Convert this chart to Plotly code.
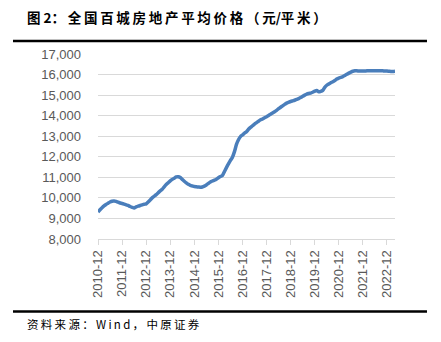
import plotly.graph_objects as go

# Monthly average price of 100 cities (yuan / m2), 2010-12 .. 2023-04
months = []
y, m = 2010, 12
for _ in range(149):
    months.append(f"{y}-{m:02d}")
    m += 1
    if m > 12:
        m = 1
        y += 1

prices = [
    9310, 9420, 9520, 9610, 9680, 9740, 9800, 9840, 9850, 9830, 9790, 9750,
    9730, 9700, 9660, 9630, 9580, 9540, 9510, 9560, 9600, 9630, 9660, 9690,
    9710, 9800, 9900, 10000, 10080, 10160, 10250, 10340, 10420, 10540, 10650, 10740,
    10830, 10900, 10960, 11020, 11030, 10990, 10900, 10810, 10730, 10660, 10610, 10580,
    10550, 10540, 10530, 10520, 10530, 10570, 10630, 10700, 10770, 10820, 10860, 10910,
    10980, 11040, 11090, 11280, 11470, 11650, 11820, 11980, 12250, 12600, 12830, 12980,
    13060, 13150, 13220, 13340, 13430, 13510, 13590, 13660, 13730, 13800, 13840, 13900,
    13950, 14010, 14070, 14130, 14190, 14260, 14340, 14410, 14480, 14550, 14610, 14650,
    14690, 14720, 14750, 14790, 14830, 14880, 14940, 15000, 15050, 15080, 15100, 15140,
    15190, 15220, 15160, 15180, 15230, 15380, 15480, 15540, 15600, 15650, 15710, 15780,
    15830, 15860, 15900, 15950, 16010, 16070, 16120, 16160, 16180, 16180, 16170, 16170,
    16170, 16170, 16180, 16180, 16180, 16190, 16190, 16190, 16190, 16190, 16180, 16170,
    16170, 16160, 16150, 16150, 16160,
]

tick_labels = [f"{yr}-12" for yr in range(2010, 2023)]
y_ticks = list(range(8000, 17001, 1000))

title_text = "图 2：全国百城房地产平均价格（元/平米）"
source_text = "资料来源：Wind，中原证券"

THIN = chr(0x2009)


def spaced(text, wide_only=False):
    """Open up character spacing with thin spaces (optionally only
    between two full-width characters)."""
    out = text[0]
    for a, b in zip(text, text[1:]):
        if not wide_only or (ord(a) > 0x2E80 and ord(b) > 0x2E80):
            out += THIN
        out += b
    return out


CJK = "Noto Sans CJK SC"
TICK_FONT = dict(family="Liberation Sans, Arial", size=13, color="#595959")

fig = go.Figure(
    go.Scatter(
        x=months,
        y=prices,
        mode="lines",
        line=dict(color="#4a7ebb", width=3.5, shape="spline", smoothing=0.6),
        hoverinfo="x+y",
    )
)

fig.update_layout(
    width=441,
    height=342,
    margin=dict(l=98, r=46, t=54, b=103),
    paper_bgcolor="white",
    plot_bgcolor="white",
    showlegend=False,
    xaxis=dict(
        type="category",
        range=[0, len(months) - 1],
        tickmode="array",
        tickvals=tick_labels,
        ticktext=tick_labels,
        tickangle=-90,
        tickfont=TICK_FONT,
        showgrid=False,
        showline=True,
        linecolor="#d9d9d9",
        linewidth=1,
        ticks="outside",
        ticklen=5,
        tickcolor="#d9d9d9",
        zeroline=False,
    ),
    yaxis=dict(
        range=[8000, 17000],
        tickmode="array",
        tickvals=y_ticks,
        ticktext=[f"{v:,}" for v in y_ticks],
        tickfont=TICK_FONT,
        showgrid=True,
        gridcolor="#d9d9d9",
        gridwidth=1,
        showline=False,
        zeroline=False,
        ticks="",
        ticklabelstandoff=16,
    ),
)

# Title and source lines framing the chart
fig.add_shape(type="line", xref="paper", yref="paper",
              x0=-0.2862, x1=1.1077, y0=1.0703, y1=1.0703,
              line=dict(color="black", width=2.5))
fig.add_shape(type="line", xref="paper", yref="paper",
              x0=-0.2862, x1=1.1077, y0=-0.392, y1=-0.392,
              line=dict(color="black", width=2.5))

fig.add_annotation(
    text=f"<b>{spaced(title_text, wide_only=True)}</b>",
    xref="paper", yref="paper", x=-0.2458, y=1.2,
    xanchor="left", yanchor="middle", showarrow=False,
    font=dict(family=CJK, size=13.5, color="black"),
)
fig.add_annotation(
    text=spaced(source_text),
    xref="paper", yref="paper", x=-0.2458, y=-0.4595,
    xanchor="left", yanchor="middle", showarrow=False,
    font=dict(family=CJK, size=11.5, color="black"),
)

fig.write_html("out.html")
